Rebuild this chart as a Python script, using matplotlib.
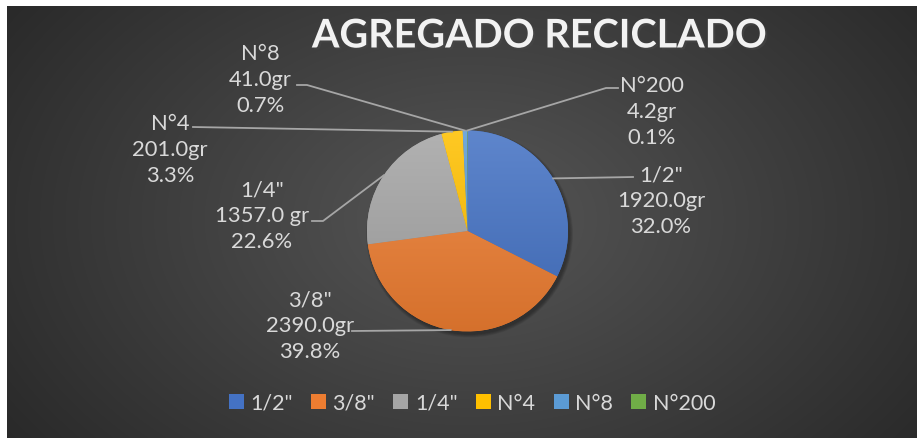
import numpy as np
import matplotlib.pyplot as plt
import matplotlib.patheffects as pe
from matplotlib.colors import to_rgb

# data
tamices = ['1/2"', '3/8"', '1/4"', 'N°4', 'N°8', 'N°200']
pesos = [1920.0, 2390.0, 1357.0, 201.0, 41.0, 4.2]
pesos_txt = ['1920.0gr', '2390.0gr', '1357.0 gr', '201.0gr', '41.0gr', '4.2gr']
porcentajes = [32.0, 39.8, 22.6, 3.3, 0.7, 0.1]
colores = ['#4472C4', '#ED7D31', '#A5A5A5', '#FFC000', '#5B9BD5', '#70AD47']

# label layout in pixels: text centre, and leader path end (elbow, end)
lbl_pos = [(661, 201), (310, 326), (262, 216), (170, 150), (260, 80), (652, 112)]
lbl_elbow = [(633, 178), (352, 332), (323, 222), (193, 128), (307, 86), (606, 89)]
lbl_end = [(633, 178), (352, 332), (312, 222), (193, 128), (297, 86), (618, 89)]

W, H = 917, 439
cx, cy, rad = 467.5, 232, 100.5
txt_col = '#D9D9D9'
font = 'Lato'

fig = plt.figure(figsize=(W / 100, H / 100), dpi=100)
fig.patch.set_facecolor('white')
ax = fig.add_axes([0, 0, 1, 1])
ax.set_xlim(0, W)
ax.set_ylim(H, 0)
ax.set_aspect('equal')
ax.axis('off')

# radial dark background
yy, xx = np.mgrid[7:H, 7:W]
r = np.sqrt(((xx - 470) / 620.0) ** 2 + ((yy - 220) / 420.0) ** 2)
g = 0x56 / 255 + (0x25 / 255 - 0x56 / 255) * np.clip(r, 0, 1)
ax.imshow(np.dstack([g, g, g]), extent=[7, W, H, 7], zorder=0)

# soft shadow under pie
for k in range(6):
    ax.add_patch(plt.Circle((cx + 2, cy + 3), rad + 3 - k * 0.6, color='black',
                            alpha=0.06, lw=0, zorder=1))

wedges, _ = ax.pie(pesos, colors=colores, startangle=-90, counterclock=True,
                   center=(cx, cy), radius=rad, frame=True)
ax.set_xlim(0, W)
ax.set_ylim(H, 0)
ax.axis('off')

# vertical gradient inside each slice
tt = np.linspace(0, 1, 200)[:, None]
for w, c in zip(wedges, colores):
    base = np.array(to_rgb(c))
    top = base + (1 - base) * 0.14
    bot = base * 0.9
    img = top[None, None, :] * (1 - tt[..., None]) + bot[None, None, :] * tt[..., None]
    img = np.repeat(img, 2, axis=1)
    im = ax.imshow(img, extent=[cx - rad, cx + rad, cy + rad, cy - rad], zorder=2)
    im.set_clip_path(w)
    w.set_zorder(1.5)

# labels with leader lines
for i, w in enumerate(wedges):
    mid = np.deg2rad((w.theta1 + w.theta2) / 2)
    ax_x = cx + rad * np.cos(mid)
    ax_y = cy + rad * np.sin(mid)
    ex, ey = lbl_elbow[i]
    fx, fy = lbl_end[i]
    ax.plot([ax_x, ex, fx], [ax_y, ey, fy], color='#A6A6A6', lw=1.3, zorder=3)
    txt = f"{tamices[i]}\n{pesos_txt[i]}\n{porcentajes[i]:.1f}%"
    ax.text(lbl_pos[i][0], lbl_pos[i][1], txt, ha='center', va='center',
            fontsize=15.8, color=txt_col, family=font, linespacing=1.36, zorder=4)

# title
ax.text(540, 37, 'AGREGADO RECICLADO', ha='center', va='center', fontsize=28.5,
        fontweight='bold', color='#F2F2F2', family=font, zorder=4,
        path_effects=[pe.withSimplePatchShadow(offset=(1.5, -1.5), alpha=0.5)])

# legend
leg = ax.legend(wedges, tamices, ncol=6, loc='center',
                bbox_to_anchor=(472 / W, 1 - 404 / H), frameon=False,
                handlelength=0.7, handleheight=0.7, handletextpad=0.3,
                columnspacing=0.85, prop={'family': font, 'size': 15.5},
                labelcolor=txt_col)

fig.savefig('out.png', dpi=100, facecolor=fig.get_facecolor())
